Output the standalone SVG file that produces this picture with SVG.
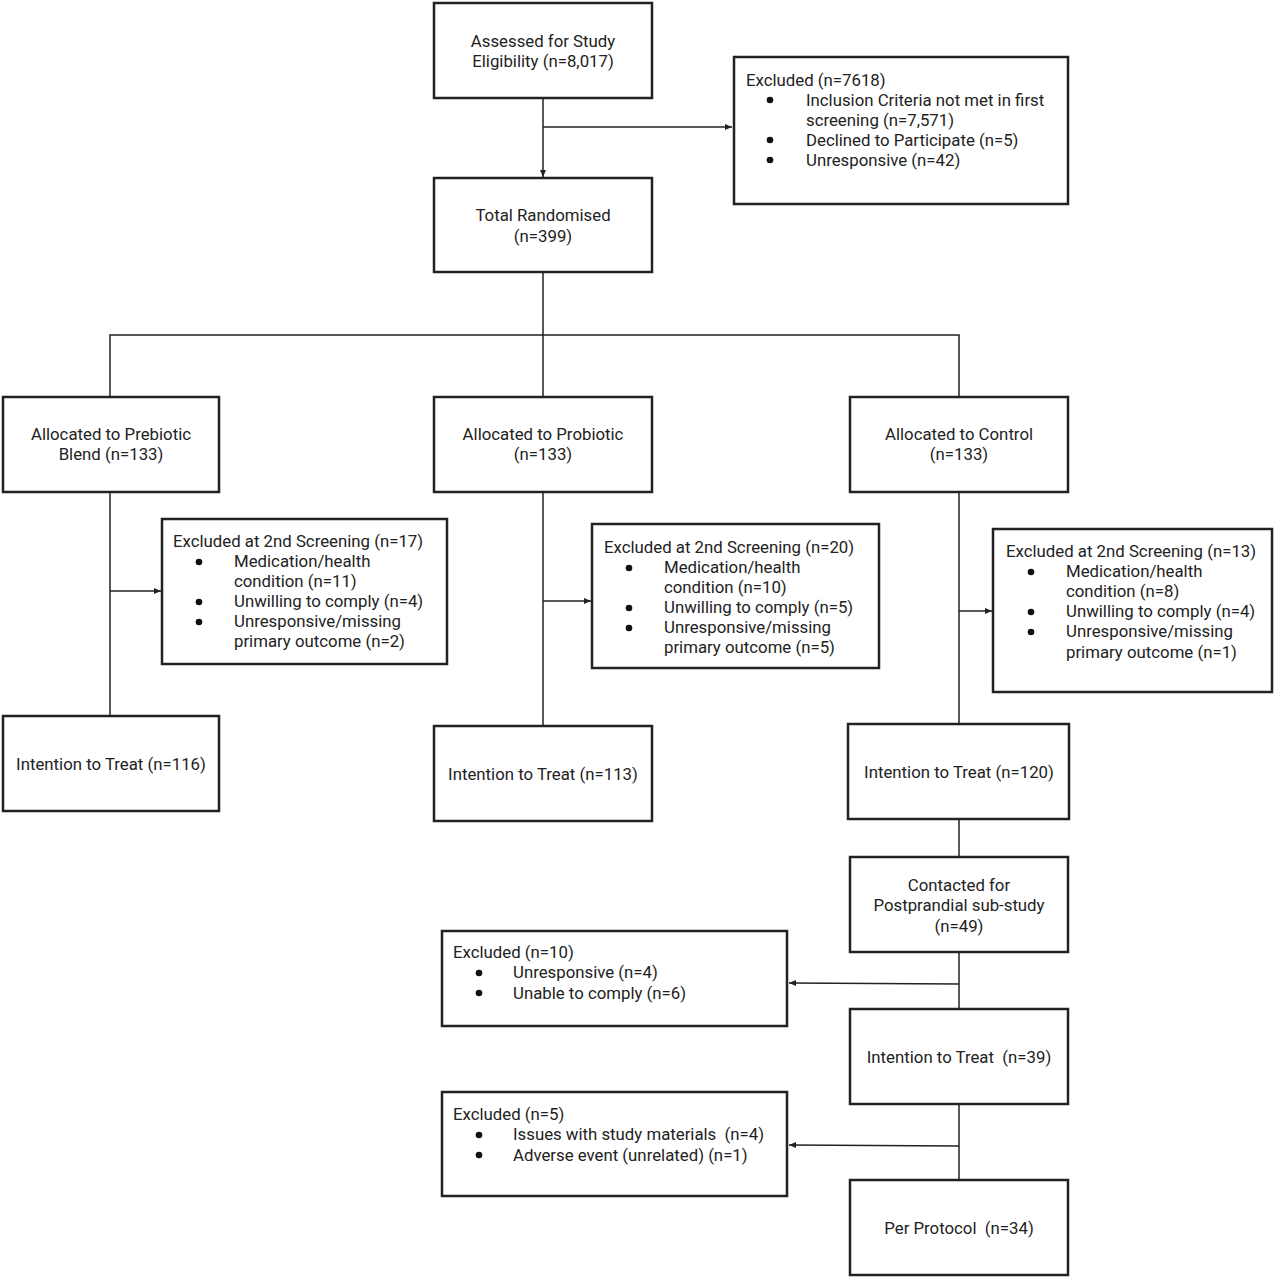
<svg xmlns="http://www.w3.org/2000/svg" width="1275" height="1280" viewBox="0 0 1275 1280">
<defs>
<marker id="arr" markerWidth="8" markerHeight="8" refX="7" refY="4" orient="auto" markerUnits="userSpaceOnUse">
<path d="M0,1 L7,4 L0,7 z" fill="#222"/>
</marker>
<style>
.box{fill:#fff;stroke:#222;stroke-width:2.5}
.t{font-family:Roboto,"Liberation Sans",sans-serif;font-size:16.8px;fill:#222}
.c{text-anchor:middle}
.ln{fill:none;stroke:#222;stroke-width:1.5}
circle{fill:#111}
</style>
</defs>
<rect width="1275" height="1280" fill="#fff"/>
<g id="connectors">
<line class="ln" x1="543" y1="98" x2="543" y2="177" marker-end="url(#arr)"/>
<line class="ln" x1="543" y1="127" x2="732" y2="127" marker-end="url(#arr)"/>
<polyline class="ln" points="543,272 543,397"/>
<polyline class="ln" points="110,397 110,335 959,335 959,397"/>
<line class="ln" x1="110" y1="492" x2="110" y2="716"/>
<line class="ln" x1="110" y1="591" x2="161" y2="591" marker-end="url(#arr)"/>
<line class="ln" x1="543" y1="492" x2="543" y2="726"/>
<line class="ln" x1="543" y1="601" x2="591" y2="601" marker-end="url(#arr)"/>
<line class="ln" x1="959" y1="492" x2="959" y2="724"/>
<line class="ln" x1="959" y1="611" x2="992" y2="611" marker-end="url(#arr)"/>
<line class="ln" x1="959" y1="819" x2="959" y2="857"/>
<line class="ln" x1="959" y1="952" x2="959" y2="1009"/>
<line class="ln" x1="959" y1="984" x2="789" y2="983" marker-end="url(#arr)"/>
<line class="ln" x1="959" y1="1104" x2="959" y2="1180"/>
<line class="ln" x1="959" y1="1146" x2="789" y2="1145" marker-end="url(#arr)"/>
</g>
<g id="assessed">
<rect class="box" x="434" y="3" width="218" height="95"/>
<text class="t c" x="543" y="47">Assessed for Study</text>
<text class="t c" x="543" y="67">Eligibility (n=8,017)</text>
</g>
<g id="excluded1">
<rect class="box" x="734" y="57" width="334" height="147"/>
<text class="t" x="746" y="86">Excluded (n=7618)</text>
<circle cx="770" cy="100" r="3.3"/><text class="t" x="806" y="106">Inclusion Criteria not met in first</text>
<text class="t" x="806" y="126">screening (n=7,571)</text>
<circle cx="770" cy="140" r="3.3"/><text class="t" x="806" y="146">Declined to Participate (n=5)</text>
<circle cx="770" cy="160" r="3.3"/><text class="t" x="806" y="166">Unresponsive (n=42)</text>
</g>
<g id="randomised">
<rect class="box" x="434" y="178" width="218" height="94"/>
<text class="t c" x="543" y="221">Total Randomised</text>
<text class="t c" x="543" y="242">(n=399)</text>
</g>
<g id="alloc-prebiotic">
<rect class="box" x="3" y="397" width="216" height="95"/>
<text class="t c" x="111" y="440">Allocated to Prebiotic</text>
<text class="t c" x="111" y="460">Blend (n=133)</text>
</g>
<g id="alloc-probiotic">
<rect class="box" x="434" y="397" width="218" height="95"/>
<text class="t c" x="543" y="440">Allocated to Probiotic</text>
<text class="t c" x="543" y="460">(n=133)</text>
</g>
<g id="alloc-control">
<rect class="box" x="850" y="397" width="218" height="95"/>
<text class="t c" x="959" y="440">Allocated to Control</text>
<text class="t c" x="959" y="460">(n=133)</text>
</g>
<g id="excl-prebiotic">
<rect class="box" x="162" y="519" width="285" height="145"/>
<text class="t" x="173" y="547">Excluded at 2nd Screening (n=17)</text>
<circle cx="199" cy="562" r="3.3"/><text class="t" x="234" y="567">Medication/health</text>
<text class="t" x="234" y="587">condition (n=11)</text>
<circle cx="199" cy="602" r="3.3"/><text class="t" x="234" y="607">Unwilling to comply (n=4)</text>
<circle cx="199" cy="622" r="3.3"/><text class="t" x="234" y="627">Unresponsive/missing</text>
<text class="t" x="234" y="647">primary outcome (n=2)</text>
</g>
<g id="excl-probiotic">
<rect class="box" x="592" y="524" width="287" height="144"/>
<text class="t" x="604" y="553">Excluded at 2nd Screening (n=20)</text>
<circle cx="629" cy="568" r="3.3"/><text class="t" x="664" y="573">Medication/health</text>
<text class="t" x="664" y="593">condition (n=10)</text>
<circle cx="629" cy="608" r="3.3"/><text class="t" x="664" y="613">Unwilling to comply (n=5)</text>
<circle cx="629" cy="628" r="3.3"/><text class="t" x="664" y="633">Unresponsive/missing</text>
<text class="t" x="664" y="653">primary outcome (n=5)</text>
</g>
<g id="excl-control">
<rect class="box" x="993" y="529" width="279" height="163"/>
<text class="t" x="1006" y="557">Excluded at 2nd Screening (n=13)</text>
<circle cx="1031" cy="572" r="3.3"/><text class="t" x="1066" y="577">Medication/health</text>
<text class="t" x="1066" y="597">condition (n=8)</text>
<circle cx="1031" cy="612" r="3.3"/><text class="t" x="1066" y="617">Unwilling to comply (n=4)</text>
<circle cx="1031" cy="632" r="3.3"/><text class="t" x="1066" y="637">Unresponsive/missing</text>
<text class="t" x="1066" y="658">primary outcome (n=1)</text>
</g>
<g id="itt-prebiotic">
<rect class="box" x="3" y="716" width="216" height="95"/>
<text class="t c" x="111" y="770">Intention to Treat (n=116)</text>
</g>
<g id="itt-probiotic">
<rect class="box" x="434" y="726" width="218" height="95"/>
<text class="t c" x="543" y="780">Intention to Treat (n=113)</text>
</g>
<g id="itt-control">
<rect class="box" x="848" y="724" width="221" height="95"/>
<text class="t c" x="959" y="778">Intention to Treat (n=120)</text>
</g>
<g id="contacted">
<rect class="box" x="850" y="857" width="218" height="95"/>
<text class="t c" x="959" y="891">Contacted for</text>
<text class="t c" x="959" y="911">Postprandial sub-study</text>
<text class="t c" x="959" y="932">(n=49)</text>
</g>
<g id="excluded10">
<rect class="box" x="442" y="931" width="345" height="95"/>
<text class="t" x="453" y="958">Excluded (n=10)</text>
<circle cx="479" cy="973" r="3.3"/><text class="t" x="513" y="978">Unresponsive (n=4)</text>
<circle cx="479" cy="993" r="3.3"/><text class="t" x="513" y="999">Unable to comply (n=6)</text>
</g>
<g id="itt-39">
<rect class="box" x="850" y="1009" width="218" height="95"/>
<text class="t c" x="959" y="1063">Intention to Treat&#160; (n=39)</text>
</g>
<g id="excluded5">
<rect class="box" x="442" y="1092" width="345" height="104"/>
<text class="t" x="453" y="1120">Excluded (n=5)</text>
<circle cx="479" cy="1135" r="3.3"/><text class="t" x="513" y="1140">Issues with study materials&#160; (n=4)</text>
<circle cx="479" cy="1155" r="3.3"/><text class="t" x="513" y="1161">Adverse event (unrelated) (n=1)</text>
</g>
<g id="per-protocol">
<rect class="box" x="850" y="1180" width="218" height="95"/>
<text class="t c" x="959" y="1234">Per Protocol&#160; (n=34)</text>
</g>
</svg>
